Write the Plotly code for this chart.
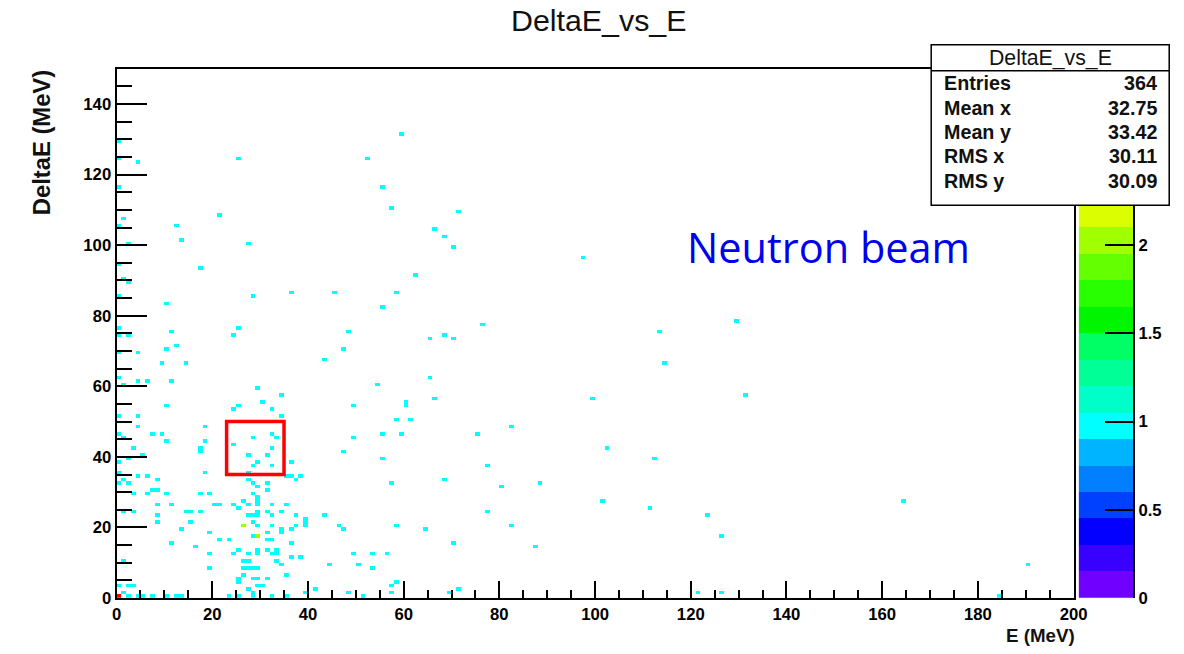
import numpy as np
import plotly.graph_objects as go

# ---------------- data (event positions) ----------------
E_MeV = [
    59.4, 0.4, 0.8, 4.2, 25.9, 52.8, 0.4, 55.7, 57.0, 21.7, 1.0, 0.8, 12.6, 13.5, 27.2, 2.5,
    0.8, 17.1, 1.3, 2.1, 0.4, 28.1, 36.9, 45.7, 58.3, 10.9, 55.7, 0.8, 2.1, 11.7, 25.1, 24.6, 48.8,
    71.8, 66.1, 68.3, 70.1, 97.4, 62.8, 76.2, 113.3,
    65.2, 68.0, 70.6, 65.4, 114.6, 66.7, 99.4, 60.1, 60.8, 58.1, 61.7, 59.0, 75.3, 82.8, 102.0,
    112.4, 77.6, 57.2, 68.2, 80.4, 88.6, 101.4, 111.5, 123.0, 77.8, 58.6, 64.3, 82.4, 126.7,
    70.1, 87.7, 56.8, 58.5, 57.9, 57.6, 69.6, 71.8, 121.2, 126.1,
    129.2, 131.4, 164.4, 190.9, 184.8,
    0.5, 12.2, 10.7, 0.5, 4.3, 9.6, 14.0,
    0.6, 1.0, 4.2, 6.2, 11.3, 29.6, 10.0, 24.4, 25.4, 0.5, 4.1, 4.8, 18.0, 0.6, 1.0, 7.8, 9.4,
    10.1, 18.4, 28.6, 24.4, 17.0, 17.4, 3.9, 5.5, 2.6, 27.7, 0.8, 28.1, 0.8, 4.8, 6.0, 18.4,
    27.1, 1.0, 2.6, 8.3, 28.2,
    32.6, 32.5, 31.2, 29.6, 32.6, 33.9,
    36.0, 35.3, 36.7, 38.0, 34.7, 32.1, 30.8, 34.8, 49.1, 49.0, 55.5, 54.6, 55.0, 47.7, 43.3,
    47.6, 53.0, 49.1, 50.4, 47.6, 46.7, 43.1, 44.4, 48.5, 51.5,
    0.6, 7.2, 8.2, 3.9, 10.5, 6.9, 17.8, 19.5, 27.1, 28.4, 29.1, 29.4, 8.6, 11.3, 20.7,
    21.9, 24.1, 25.6, 26.9, 27.7, 1.0, 3.75, 8.3, 8.3, 14.6, 15.9, 17.4, 15.6, 13.1, 19.0, 21.5,
    23.3, 26.3, 26.3, 27.7, 28.2, 29.1, 28.0, 29.3, 29.3, 11.9, 16.3, 19.7, 24.2, 25.6, 27.7,
    29.1, 26.3, 27.4, 19.2, 26.0, 27.0, 28.0, 29.1, 1.0, 25.3, 26.3, 28.4, 0.6, 2.1, 3.75,
    25.6, 27.7, 29.1, 1.7, 2.4, 4.4, 7.6, 12.4, 13.8, 23.5, 25.3, 28.4, 0.3, 0.3, 0.3, 10.7,
    5.8, 28.1,
    31.7, 37.4, 29.4, 31.2, 29.8, 32.6, 31.7, 34.3, 35.2, 29.9, 32.9, 37.4, 39.3, 39.2, 37.8,
    36.4, 39.2, 29.8, 32.2, 34.4, 31.3, 31.2, 32.9, 34.3, 36.9, 29.4, 31.7, 33.1, 33.5, 32.1,
    36.9, 38.7, 33.4, 34.0, 53.0, 35.5, 29.6, 31.2, 30.2, 41.4, 32.6, 35.0, 39.3, 28.8,
]
DeltaE_MeV = [
    131.6, 129.6, 124.5, 123.3, 124.5, 124.8, 116.5, 116.1, 110.1, 108.3, 107.0, 105.5, 105.0,
    101.7, 100.5, 100.8, 94.0, 93.6, 90.4, 89.5, 85.0, 85.2, 86.2, 86.2, 86.8, 83.4, 82.3, 76.6,
    74.1, 75.3, 76.3, 74.6, 75.7,
    109.8, 104.7, 102.3, 99.0, 96.6, 91.2, 77.5, 75.1,
    73.0, 74.2, 73.3, 62.1, 66.7, 56.5, 56.8, 55.4, 54.9, 50.8, 50.6, 46.0, 46.6, 48.4, 42.2,
    39.5, 37.4, 32.6, 33.5, 31.4, 32.6, 27.5, 25.1, 23.6, 24.8, 20.0, 19.2, 20.0, 17.7,
    15.3, 14.6, 12.9, 4.1, 3.0, 1.9, 1.2, 2.3, 1.2, 1.4,
    78.0, 57.4, 27.0, 9.3, 0.3,
    74.4, 71.5, 70.2, 69.7, 69.7, 66.4, 66.2,
    62.6, 60.7, 61.0, 61.7, 61.6, 59.5, 54.2, 53.2, 54.2, 51.8, 51.0, 48.1, 48.1, 46.8, 45.8,
    46.3, 46.3, 44.9, 44.9, 45.7, 43.1, 42.6, 41.2, 42.2, 40.8, 39.4, 40.1, 38.4, 37.4, 35.0,
    34.5, 34.7, 35.0, 35.6, 33.4, 32.7, 33.1, 32.8,
    46.3, 42.2, 40.4, 38.0, 37.7, 45.0,
    38.3, 34.4, 34.5, 34.5, 51.0, 53.3, 55.6, 57.7, 54.7, 45.8, 46.3, 60.7, 39.5, 41.6, 67.8,
    70.9, 8.5, 12.2, 9.9, 19.1, 20.0, 23.1, 9.2, 1.6, 0.9,
    32.5, 30.9, 30.6, 29.4, 29.7, 29.0, 29.9, 29.7, 33.1, 29.0, 28.7, 27.1, 26.8, 26.8,
    26.1, 26.6, 26.9, 25.4, 27.1, 26.8, 24.9, 24.9, 23.4, 21.7, 24.0, 24.3, 24.8, 21.0, 19.1,
    18.8, 16.5, 16.5, 20.9, 20.9, 23.5, 23.1, 24.0, 17.9, 17.6, 17.6, 15.1, 14.6, 12.2, 12.5,
    13.0, 12.7, 12.2, 10.4, 10.8, 8.5, 8.3, 8.5, 8.5, 8.5, 10.4, 5.6, 6.1, 5.6, 3.5, 3.3, 3.1,
    4.0, 2.8, 3.3, 1.4, 0.8, 0.5, 0.8, 0.5, 0.5, 0.5, 0.5, 1.4, 0.5, 0.5, 0.5, 0.5,
    0.9, 21.2,
    32.7, 33.2, 31.4, 30.8, 26.2, 26.4, 24.5, 24.8, 26.0, 23.8, 23.4, 23.6, 22.9, 21.9, 20.4,
    19.8, 20.0, 20.0, 20.0, 19.8, 18.2, 16.7, 16.9, 18.4, 15.3, 13.8, 13.9, 13.4, 12.7, 12.2,
    11.8, 11.1, 10.8, 9.4, 12.0, 6.6, 5.5, 5.0, 3.1, 2.8, 0.8, 0.5, 1.4, 0.5,
]

x_ticks = [0, 20, 40, 60, 80, 100, 120, 140, 160, 180, 200]
y_ticks = [0, 20, 40, 60, 80, 100, 120, 140]
z_ticks = [0, 0.5, 1, 1.5, 2]
z_tick_labels = ["0", "0.5", "1", "1.5", "2"]

stats_names = ["Entries", "Mean x", "Mean y", "RMS x", "RMS y"]
stats_values = ["364", "32.75", "33.42", "30.11", "30.09"]

band_colors = [
    "#7000FF", "#3800FF", "#0400FF", "#0040FF", "#0080FF", "#00B4FF", "#00FFFF",
    "#00FFC8", "#00FF96", "#00FF64", "#00F500", "#28FF00", "#64FF00", "#A0FF00",
    "#DCFF00", "#FFF000", "#FFC000", "#FF8C00", "#FF5000", "#FF0000",
]
z_max = 3.0

# ---------------- histogram ----------------
x_edges = np.arange(0, 201, 1.0)
y_edges = np.arange(0, 151, 1.0)
H, xe, ye = np.histogram2d(E_MeV, DeltaE_MeV, bins=[x_edges, y_edges])
Z = H.T.copy()
Z[Z == 0] = np.nan
xc = 0.5 * (xe[:-1] + xe[1:])
yc = 0.5 * (ye[:-1] + ye[1:])

n = len(band_colors)
cscale = []
for i, c in enumerate(band_colors):
    cscale.append([i / n, c])
    cscale.append([(i + 1) / n, c])

band_w = z_max / n
band_centers = [band_w * (i + 0.5) for i in range(n)]

W, Hh = 1184, 654
S = 0.988  # observed uniform shrink of the rendered page


def fx(p):
    return (p / S) / W


def fy(p):
    return 1 - (p / S) / Hh


def fs(v):
    return v / S


FONT = "Liberation Sans, Arial, sans-serif"

fig = go.Figure()
fig.add_trace(go.Heatmap(
    x=xc, y=yc, z=Z, colorscale=cscale, zmin=0, zmax=z_max,
    showscale=False, zsmooth=False, hoverongaps=False,
))
fig.add_trace(go.Heatmap(
    x=[0], y=band_centers, z=[[v] for v in band_centers],
    colorscale=cscale, zmin=0, zmax=z_max, showscale=False,
    xaxis="x2", yaxis="y2", zsmooth=False,
))

tickfont = dict(family=FONT, size=fs(16.5), color="#000", weight="bold")
fig.update_layout(
    width=W, height=Hh, margin=dict(l=0, r=0, t=0, b=0),
    paper_bgcolor="white", plot_bgcolor="white", showlegend=False,
    xaxis=dict(
        domain=[fx(112), fx(1073)], range=[0, 200], tickvals=x_ticks,
        ticks="inside", ticklen=fs(17), tickwidth=1.5, tickcolor="black",
        minor=dict(ticks="inside", dtick=5, tick0=0, ticklen=fs(8), tickwidth=1.5, tickcolor="black"),
        showline=True, mirror=True, linecolor="black", linewidth=2,
        showgrid=False, zeroline=False, tickfont=tickfont, anchor="y",
    ),
    yaxis=dict(
        domain=[fy(600), fy(69)], range=[0, 150], tickvals=y_ticks,
        ticks="inside", ticklen=fs(30), tickwidth=1.5, tickcolor="black",
        minor=dict(ticks="inside", dtick=5, tick0=0, ticklen=fs(15), tickwidth=1.5, tickcolor="black"),
        showline=True, mirror=True, linecolor="black", linewidth=2,
        showgrid=False, zeroline=False, tickfont=tickfont, anchor="x",
    ),
    xaxis2=dict(domain=[fx(1078), fx(1133)], range=[-0.5, 0.5], visible=False, anchor="y2"),
    yaxis2=dict(
        domain=[fy(600), fy(69)], range=[0, z_max], side="right", anchor="x2",
        tickvals=z_ticks, ticktext=z_tick_labels, ticks="inside", ticklen=fs(28),
        tickwidth=1.5, tickcolor="black", showline=True, linecolor="black", linewidth=1.5,
        showgrid=False, zeroline=False, tickfont=tickfont,
    ),
)

shapes = [
    dict(type="rect", xref="x", yref="y", x0=23, x1=35, y0=35, y1=50,
         line=dict(color="#FF0000", width=3.5), layer="above"),
    dict(type="rect", xref="paper", yref="paper", x0=fx(930), x1=fx(1169), y0=fy(206), y1=fy(45),
         fillcolor="white", line=dict(color="black", width=1.5), layer="above"),
    dict(type="line", xref="paper", yref="paper", x0=fx(930), x1=fx(1169), y0=fy(71), y1=fy(71),
         line=dict(color="black", width=1.5), layer="above"),
]
fig.update_layout(shapes=shapes)

ann = []
ann.append(dict(text="DeltaE_vs_E", x=fx(596), y=fy(21), xref="paper", yref="paper",
                showarrow=False, xanchor="center", yanchor="middle",
                font=dict(family=FONT, size=fs(30), color="#111")))
ann.append(dict(text="<b>DeltaE (MeV)</b>", x=fx(36), y=fy(68), xref="paper", yref="paper",
                showarrow=False, xanchor="center", yanchor="top", textangle=-90,
                font=dict(family=FONT, size=fs(23.5), color="#111")))
ann.append(dict(text="<b>E (MeV)</b>", x=fx(1076), y=fy(638), xref="paper", yref="paper",
                showarrow=False, xanchor="right", yanchor="middle",
                font=dict(family=FONT, size=fs(18.5), color="#111")))
ann.append(dict(text="Neutron beam", x=fx(827), y=fy(248), xref="paper", yref="paper",
                showarrow=False, xanchor="center", yanchor="middle",
                font=dict(family="Open Sans, Noto Sans, sans-serif", size=fs(41), color="#0000F0")))
ann.append(dict(text="DeltaE_vs_E", x=fx(1050), y=fy(58), xref="paper", yref="paper",
                showarrow=False, xanchor="center", yanchor="middle",
                font=dict(family=FONT, size=fs(21), color="#111")))
rows_y = [83.5, 108, 132, 157, 181.5]
for name, val, yy in zip(stats_names, stats_values, rows_y):
    ann.append(dict(text=f"<b>{name}</b>", x=fx(941), y=fy(yy), xref="paper", yref="paper",
                    showarrow=False, xanchor="left", yanchor="middle",
                    font=dict(family=FONT, size=fs(19.5), color="#111")))
    ann.append(dict(text=f"<b>{val}</b>", x=fx(1159), y=fy(yy), xref="paper", yref="paper",
                    showarrow=False, xanchor="right", yanchor="middle",
                    font=dict(family=FONT, size=fs(19.5), color="#111")))
fig.update_layout(annotations=ann)

fig.write_html("out.html")
